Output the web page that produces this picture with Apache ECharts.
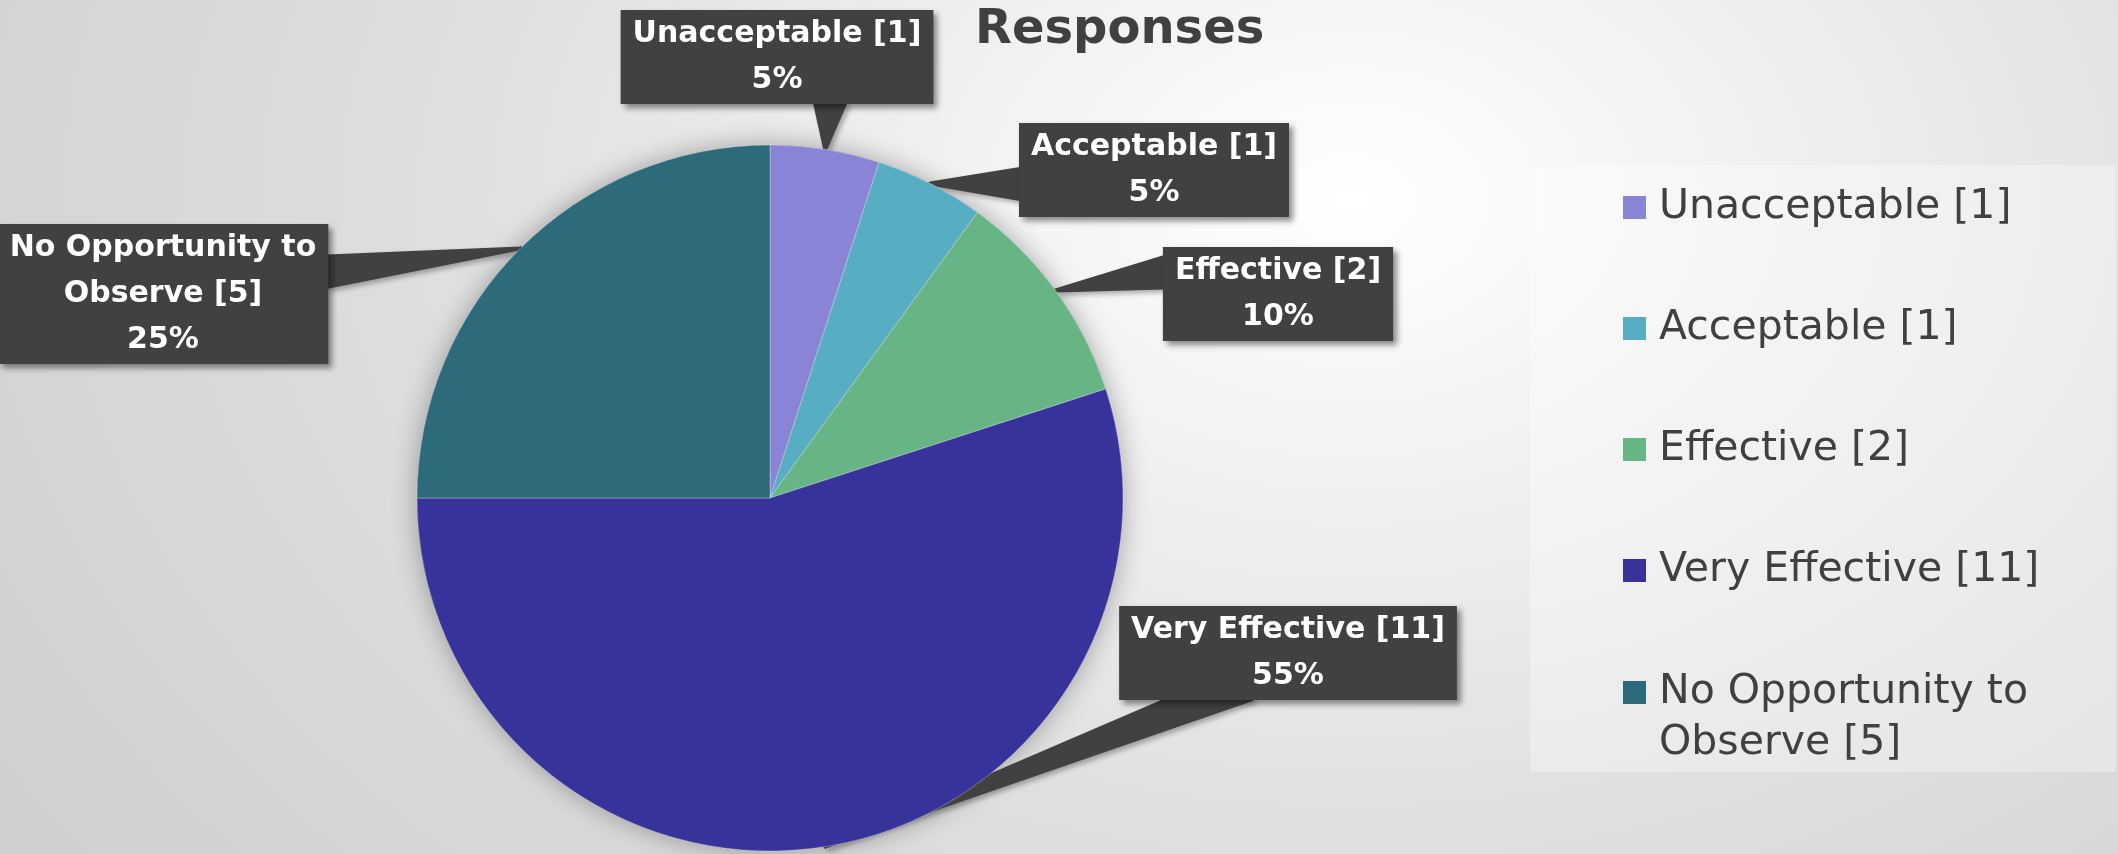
<!DOCTYPE html>
<html>
<head>
<meta charset="utf-8">
<title>Responses</title>
<script src="https://cdn.jsdelivr.net/npm/echarts@6/dist/echarts.min.js"></script>
<style>
  html, body { margin: 0; padding: 0; width: 2118px; height: 854px; overflow: hidden; }
  body {
    background: radial-gradient(ellipse 1700px 1200px at 1350px 200px,
      #ffffff 0%, #f0f0f0 25%, #dedede 55%, #cdcdcd 100%);
  }
  #chart { width: 2118px; height: 854px; }
</style>
</head>
<body>
<div id="chart"></div>
<script>
// ---- data ----
const chartTitle = 'Responses';
const categories = [
  'Unacceptable [1]',
  'Acceptable [1]',
  'Effective [2]',
  'Very Effective [11]',
  'No Opportunity to Observe [5]'
];
const counts = [1, 1, 2, 11, 5];
const sliceColors = ['#8a84d6', '#57aec3', '#67b584', '#37339b', '#2d6b7b'];

// ---- callout placement: box centre, edge the pointer leaves from, position along that edge ----
const callouts = [
  { cx: 777,  cy: 57,  edge: 'bottom', at: 0.67 },
  { cx: 1154, cy: 170, edge: 'left',   at: 0.65 },
  { cx: 1278, cy: 294, edge: 'left',   at: 0.27 },
  { cx: 1288, cy: 653, edge: 'bottom', at: 0.27 },
  { cx: 163,  cy: 294, edge: 'right',  at: 0.34 }
];

const PIE_CENTER = [770, 498];
const PIE_RADIUS = 353;
const total = counts.reduce((a, b) => a + b, 0);

// break long names onto two lines
function wrap(s) {
  return s.length > 20 ? s.replace(/^(.{1,17}) /, '$1\n') : s;
}
const isWrapped = s => wrap(s).indexOf('\n') >= 0;

// mid-angle point on the rim of slice i (start at 12 o'clock, clockwise)
function rimPoint(i) {
  let before = 0;
  for (let k = 0; k < i; k++) before += counts[k];
  const a = (before + counts[i] / 2) / total * 2 * Math.PI;
  return [PIE_CENTER[0] + PIE_RADIUS * Math.sin(a), PIE_CENTER[1] - PIE_RADIUS * Math.cos(a)];
}

// tapered pointer drawn as a fan of strokes from the tip to the box edge
function pointer(tip, c, w, h) {
  const x0 = c.cx - w / 2, y0 = c.cy - h / 2;
  let base, dir;
  if (c.edge === 'bottom') { base = [x0 + w * c.at, y0 + h - 1]; dir = [1, 0]; }
  else if (c.edge === 'top') { base = [x0 + w * c.at, y0 + 1]; dir = [1, 0]; }
  else if (c.edge === 'left') { base = [x0 + 1, y0 + h * c.at]; dir = [0, 1]; }
  else { base = [x0 + w - 1, y0 + h * c.at]; dir = [0, 1]; }
  const vx = base[0] - tip[0], vy = base[1] - tip[1];
  const len = Math.hypot(vx, vy) || 1;
  const sinT = Math.abs(vx * dir[1] - vy * dir[0]) / len;
  const half = Math.min(45, 15 / Math.max(sinT, 0.2));
  const a = [base[0] - dir[0] * half, base[1] - dir[1] * half];
  const b = [base[0] + dir[0] * half, base[1] + dir[1] * half];
  const steps = 24, pts = [];
  for (let i = 0; i <= steps; i++) {
    const t = i / steps;
    pts.push([tip[0], tip[1]]);
    pts.push([a[0] + (b[0] - a[0]) * t, a[1] + (b[1] - a[1]) * t]);
  }
  return pts;
}

const chart = echarts.init(document.getElementById('chart'), null, { renderer: 'canvas' });

const legendTop = 182;
const legendStep = 121;
const legendLineHeight = 51;
const legendText = {
  fontFamily: 'DejaVu Sans',
  fontSize: 41,
  color: '#404040',
  lineHeight: legendLineHeight,
  padding: [0, 0, 0, 8]
};
// square marker sitting beside the first line of a two-line entry
const twoLineMarker = 'path://M0,14h23v23h-23Z M0,0L0,0 M0,102L0,102';

const singleLine = categories.filter(n => !isWrapped(n));
const multiLine = categories.filter(n => isWrapped(n));

const option = {
  backgroundColor: 'transparent',
  animation: false,
  title: {
    text: chartTitle,
    left: 975,
    top: 7,
    padding: 0,
    textStyle: {
      fontFamily: 'DejaVu Sans',
      fontWeight: 'bold',
      fontSize: 48,
      color: '#404040'
    }
  },
  graphic: [{
    type: 'rect',
    left: 1530,
    top: 165,
    z: -10,
    silent: true,
    shape: { width: 586, height: 607 },
    style: { fill: 'rgba(255,255,255,0.32)' }
  }],
  legend: [
    {
      orient: 'vertical',
      left: 1623,
      top: legendTop,
      padding: 0,
      itemWidth: 23,
      itemHeight: 23,
      itemGap: legendStep - legendLineHeight,
      icon: 'rect',
      itemStyle: { borderWidth: 0 },
      selectedMode: false,
      formatter: name => wrap(name),
      textStyle: legendText,
      data: singleLine
    },
    {
      orient: 'vertical',
      left: 1623,
      top: legendTop + singleLine.length * legendStep + 1,
      padding: 0,
      itemWidth: 23,
      itemHeight: 2 * legendLineHeight,
      icon: twoLineMarker,
      itemStyle: { borderWidth: 0 },
      selectedMode: false,
      formatter: name => wrap(name),
      textStyle: legendText,
      data: multiLine
    }
  ],
  series: [
    {
      // soft drop shadow under the whole pie
      type: 'pie',
      silent: true,
      z: 1,
      center: PIE_CENTER,
      radius: PIE_RADIUS,
      data: [{ value: total, name: '' }],
      itemStyle: { color: '#888', shadowBlur: 26, shadowColor: 'rgba(0,0,0,0.32)' },
      label: { show: false },
      labelLine: { show: false },
      tooltip: { show: false }
    },
    {
      type: 'pie',
      z: 2,
      center: PIE_CENTER,
      radius: PIE_RADIUS,
      startAngle: 90,
      clockwise: true,
      avoidLabelOverlap: false,
      data: categories.map((n, i) => ({
        name: n,
        value: counts[i],
        itemStyle: { color: sliceColors[i] }
      })),
      itemStyle: { borderColor: 'rgba(255,255,255,0.3)', borderWidth: 1 },
      label: {
        show: true,
        position: 'outside',
        formatter: p => wrap(p.name) + '\n' + p.percent + '%',
        fontFamily: 'DejaVu Sans',
        fontWeight: 'bold',
        fontSize: 30,
        lineHeight: 46,
        color: '#ffffff',
        align: 'center',
        backgroundColor: '#414141',
        padding: [1, 12, 1, 12],
        shadowBlur: 6,
        shadowOffsetX: 4,
        shadowOffsetY: 4,
        shadowColor: 'rgba(0,0,0,0.45)'
      },
      labelLine: {
        show: true,
        length: 20,
        length2: 20,
        lineStyle: {
          color: '#414141',
          width: 4,
          join: 'round',
          cap: 'round',
          shadowBlur: 5,
          shadowOffsetX: 3,
          shadowOffsetY: 3,
          shadowColor: 'rgba(0,0,0,0.3)'
        }
      },
      labelLayout: params => {
        const c = callouts[params.dataIndex];
        const w = params.labelRect.width, h = params.labelRect.height;
        const tip = rimPoint(params.dataIndex);
        return {
          x: c.cx,
          y: c.cy,
          align: 'center',
          verticalAlign: 'middle',
          labelLinePoints: pointer(tip, c, w, h)
        };
      }
    }
  ]
};

chart.setOption(option);
</script>
</body>
</html>
